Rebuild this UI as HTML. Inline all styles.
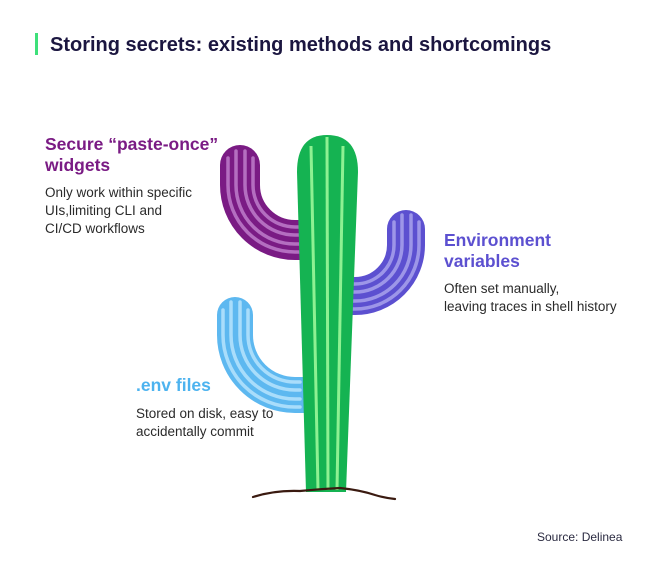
<!DOCTYPE html>
<html><head><meta charset="utf-8"><style>
html,body{margin:0;padding:0;background:#fff;}
svg{display:block;}
text{font-family:"Liberation Sans",sans-serif;}
.h{font-weight:bold;font-size:17.5px;}
.b{font-size:13.5px;fill:#2a2a2a;}
</style></head><body>
<svg width="650" height="566" viewBox="0 0 650 566" xmlns="http://www.w3.org/2000/svg">
<rect width="650" height="566" fill="#fff"/>
<rect x="35" y="33" width="3" height="22" fill="#3ee07a"/>
<text x="50" y="51" font-size="20" font-weight="bold" fill="#1b1640">Storing secrets: existing methods and shortcomings</text>

<g fill="none" stroke-linecap="round">
<path d="M240 165 L240 185 A55 55 0 0 0 295 240 L312 240" stroke="#7a1b84" stroke-width="40"/>
<g stroke="#b46ec0" stroke-width="3.5">
<path d="M228 158 L228 185 A67 67 0 0 0 295 252 L300 252"/>
<path d="M236 151 L236 185 A59 59 0 0 0 295 244 L300 244"/>
<path d="M245 151 L245 185 A50 50 0 0 0 295 235 L300 235"/>
<path d="M253 158 L253 185 A42 42 0 0 0 295 227 L300 227"/>
</g>
<path d="M406 229 L406 245 A51 51 0 0 1 355 296 L340 296" stroke="#5c50d0" stroke-width="38"/>
<g stroke="#9d96e8" stroke-width="3.5">
<path d="M394 222 L394 245 A39 39 0 0 1 355 284 L350 284"/>
<path d="M402 215 L402 245 A47 47 0 0 1 355 292 L350 292"/>
<path d="M411 215 L411 245 A56 56 0 0 1 355 301 L350 301"/>
<path d="M419 222 L419 245 A64 64 0 0 1 355 309 L350 309"/>
</g>
<path d="M235 315 L235 335 A60 60 0 0 0 295 395 L312 395" stroke="#5db8f0" stroke-width="36"/>
<g stroke="#a9ddfb" stroke-width="3.5">
<path d="M223 310 L223 335 A72 72 0 0 0 295 407 L300 407"/>
<path d="M231 302 L231 335 A64 64 0 0 0 295 399 L300 399"/>
<path d="M240 302 L240 335 A55 55 0 0 0 295 390 L300 390"/>
<path d="M248 310 L248 335 A47 47 0 0 0 295 382 L300 382"/>
</g>
</g>

<path d="M306 492 L297 172 Q297 135 327 135 Q358 135 358 172 L346 492 Z" fill="#15b352"/>
<g fill="none" stroke="#8ef192" stroke-width="3">
<path d="M311 146 L318 490"/>
<path d="M327 137 L328 490"/>
<path d="M343 146 L337 490"/>
</g>
<path d="M253 497 Q275 490 300 491 Q320 489 340 488 Q360 490 375 495 Q385 498 395 499" fill="none" stroke="#3a1a10" stroke-width="2.2" stroke-linecap="round"/>

<text class="h" fill="#7a1b84"><tspan x="45" y="150">Secure “paste-once”</tspan><tspan x="45" y="171">widgets</tspan></text>
<text class="b"><tspan x="45" y="197">Only work within specific</tspan><tspan x="45" y="215">UIs,limiting CLI and</tspan><tspan x="45" y="233">CI/CD workflows</tspan></text>

<text class="h" fill="#5c50d0"><tspan x="444" y="246">Environment</tspan><tspan x="444" y="267">variables</tspan></text>
<text class="b"><tspan x="444" y="293">Often set manually,</tspan><tspan x="444" y="311">leaving traces in shell history</tspan></text>

<text class="h" fill="#4db3ef" x="136" y="391">.env files</text>
<text class="b"><tspan x="136" y="418">Stored on disk, easy to</tspan><tspan x="136" y="436">accidentally commit</tspan></text>

<text x="537" y="541" font-size="12" fill="#2a2a40">Source: Delinea</text>
</svg>
</body></html>
